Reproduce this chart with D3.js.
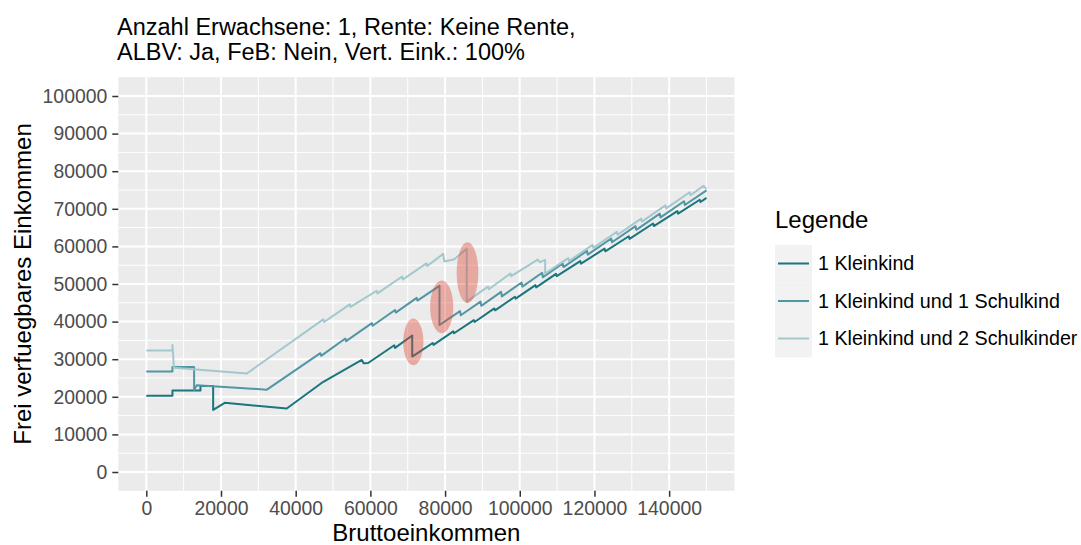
<!DOCTYPE html>
<html><head><meta charset="utf-8">
<script src="https://cdn.jsdelivr.net/npm/d3@7"></script>
<style>
body{margin:0;background:#fff;}
text{font-family:"Liberation Sans",Arial,sans-serif;}
</style></head>
<body><svg id="c" width="1081" height="545"></svg>
<script>
const titleLines = ["Anzahl Erwachsene: 1, Rente: Keine Rente,", "ALBV: Ja, FeB: Nein, Vert. Eink.: 100%"];
const xTitle = "Bruttoeinkommen";
const yTitle = "Frei verfuegbares Einkommen";
const legendTitle = "Legende";
const seriesNames = ["1 Kleinkind", "1 Kleinkind und 1 Schulkind", "1 Kleinkind und 2 Schulkinder"];
const seriesColors = ["#1a757d", "#5096a4", "#a2c8ce"];
const xTicks = [0,20000,40000,60000,80000,100000,120000,140000];
const yTicks = [0,10000,20000,30000,40000,50000,60000,70000,80000,90000,100000];

// 1 Kleinkind
const s1 = [[0,20300],[7000,20300],[7000,21700],[14500,21700],[14500,22900],[17900,22900],[17900,16500],
 [21000,18400],[37600,16900],[47400,24000],[57700,29800],[58200,28900],[59400,29000],[66400,33700],[66600,33000],
 [71200,36300],[71200,30700],[76700,34300],[76900,33800],[82200,37400],[82400,36900],[87700,40400],[87900,39900],
 [93200,43500],[93400,43000],[98700,46600],[98900,46100],[104200,49700],[104400,49100],[109700,52700],[109900,52100],
 [116200,56100],[116400,55400],[122700,59400],[122900,58700],[129200,62700],[129400,62000],[135700,66100],[135900,65400],
 [142200,69400],[142400,68700],[148200,72400],[148400,71800],[150000,72900]];
// 1 Kleinkind und 1 Schulkind
const s2 = [[0,26700],[7000,26700],[7000,27900],[12800,27900],[12800,21800],[13500,23100],[32300,21900],
 [46600,31600],[46800,30900],[53300,35500],[53500,34800],[60400,39600],[60600,38900],[66600,43100],[66800,42400],
 [72400,46300],[72600,45600],[78500,49500],[78500,39100],[84000,42800],[84200,41700],[89500,45300],[89700,44200],
 [95000,47900],[95200,46700],[100500,50400],[100700,49300],[106000,53000],[106200,51800],[111500,55500],[111700,54500],
 [118000,58800],[118200,57800],[124500,62100],[124700,61100],[131000,65400],[131200,64400],[137500,68700],[137700,67700],
 [144000,72000],[144200,71000],[150000,74900]];
// 1 Kleinkind und 2 Schulkinder
const s3 = [[0,32300],[7000,32300],[7000,33800],[7400,27700],[26900,26200],[47400,40600],[47600,39900],
 [54500,44600],[54700,43900],[61700,48200],[61900,47500],[68500,52000],[68700,51200],[75000,55500],[75200,54800],
 [79500,58000],[79800,56000],[82500,56600],[85800,59400],[85800,45300],[91500,49300],[91700,48600],
 [97500,52800],[97700,52100],[104800,56500],[105400,55800],[106800,56400],[106800,52800],
 [113000,56900],[113200,56100],[119500,60400],[119700,59600],[126000,63900],[126200,63100],[132500,67400],[132700,66600],
 [139000,70900],[139200,70100],[145500,74400],[145700,73600],[149200,76100],[150000,75300]];
const seriesData = [s1, s2, s3];

// highlight ellipses: [center gross, center net, radius gross, radius net]
const marks = [[71500,34600,2700,6200],[79100,43900,3100,7000],[86000,53000,2900,8100]];

const svg = d3.select("#c");
const M = {l:118.3, r:734.5, t:77.2, b:490.8};
const x = d3.scaleLinear().domain([-7500,157500]).range([M.l, M.r]);
const y = d3.scaleLinear().domain([-5000,105000]).range([M.b, M.t]);

// panel
svg.append("rect").attr("x",M.l).attr("y",M.t).attr("width",M.r-M.l).attr("height",M.b-M.t).attr("fill","#EBEBEB");
const g = svg.append("g");
const xMinor = d3.range(10000,157500,20000);
const yMinor = d3.range(5000,105000,10000);
g.selectAll(".xm").data(xMinor).join("line").attr("x1",d=>x(d)).attr("x2",d=>x(d)).attr("y1",M.t).attr("y2",M.b).attr("stroke","#fff").attr("stroke-width",1);
g.selectAll(".ym").data(yMinor).join("line").attr("y1",d=>y(d)).attr("y2",d=>y(d)).attr("x1",M.l).attr("x2",M.r).attr("stroke","#fff").attr("stroke-width",1);
g.selectAll(".xM").data(xTicks).join("line").attr("x1",d=>x(d)).attr("x2",d=>x(d)).attr("y1",M.t).attr("y2",M.b).attr("stroke","#fff").attr("stroke-width",2);
g.selectAll(".yM").data(yTicks).join("line").attr("y1",d=>y(d)).attr("y2",d=>y(d)).attr("x1",M.l).attr("x2",M.r).attr("stroke","#fff").attr("stroke-width",2);

// lines
const line = d3.line().x(d=>x(d[0])).y(d=>y(d[1]));
seriesData.forEach((s,i)=>{
  svg.append("path").attr("d",line(s)).attr("fill","none").attr("stroke",seriesColors[i]).attr("stroke-width",2).attr("stroke-linejoin","round");
});
// ellipses
svg.selectAll(".el").data(marks).join("ellipse")
  .attr("cx",d=>x(d[0])).attr("cy",d=>y(d[1]))
  .attr("rx",d=>x(d[0]+d[2])-x(d[0])).attr("ry",d=>y(d[1])-y(d[1]+d[3]))
  .attr("fill","rgb(220,70,50)").attr("fill-opacity",0.4);

// axes
const fmt = d3.format("d");
const xAxis = svg.append("g").attr("transform",`translate(0,${M.b})`).call(d3.axisBottom(x).tickValues(xTicks).tickFormat(fmt).tickSize(6).tickPadding(4));
const yAxis = svg.append("g").attr("transform",`translate(${M.l},0)`).call(d3.axisLeft(y).tickValues(yTicks).tickFormat(fmt).tickSize(6).tickPadding(5));
[xAxis,yAxis].forEach(a=>{
  a.select(".domain").remove();
  a.selectAll(".tick line").attr("stroke","#333").attr("stroke-width",1.5);
  a.selectAll(".tick text").attr("fill","#4d4d4d").style("font-size","19.4px").style("font-family","'Liberation Sans',Arial,sans-serif");
});
xAxis.selectAll(".tick text").attr("dy","0.71em");

// titles
svg.append("text").attr("x",(M.l+M.r)/2).attr("y",541).attr("text-anchor","middle").style("font-size","24px").attr("fill","#000").text(xTitle);
svg.append("text").attr("transform",`translate(31,${(M.t+M.b)/2}) rotate(-90)`).attr("text-anchor","middle").style("font-size","24px").attr("fill","#000").text(yTitle);
titleLines.forEach((t,i)=>{
  svg.append("text").attr("x",117).attr("y",35+i*25).style("font-size","23.5px").attr("fill","#000").text(t);
});

// legend
const L = svg.append("g").attr("transform","translate(775,0)");
L.append("text").attr("x",0).attr("y",228).style("font-size","24px").attr("fill","#000").text(legendTitle);
seriesNames.forEach((n,i)=>{
  const ky = 245 + i*37.5;
  L.append("rect").attr("x",0).attr("y",ky).attr("width",37).attr("height",37.5).attr("fill","#F2F2F2");
  L.append("line").attr("x1",3).attr("x2",34).attr("y1",ky+18.5).attr("y2",ky+18.5).attr("stroke",seriesColors[i]).attr("stroke-width",2);
  L.append("text").attr("x",43).attr("y",ky+18.5).attr("dy","0.35em").style("font-size","19.7px").attr("fill","#000").text(n);
});
</script></body></html>
